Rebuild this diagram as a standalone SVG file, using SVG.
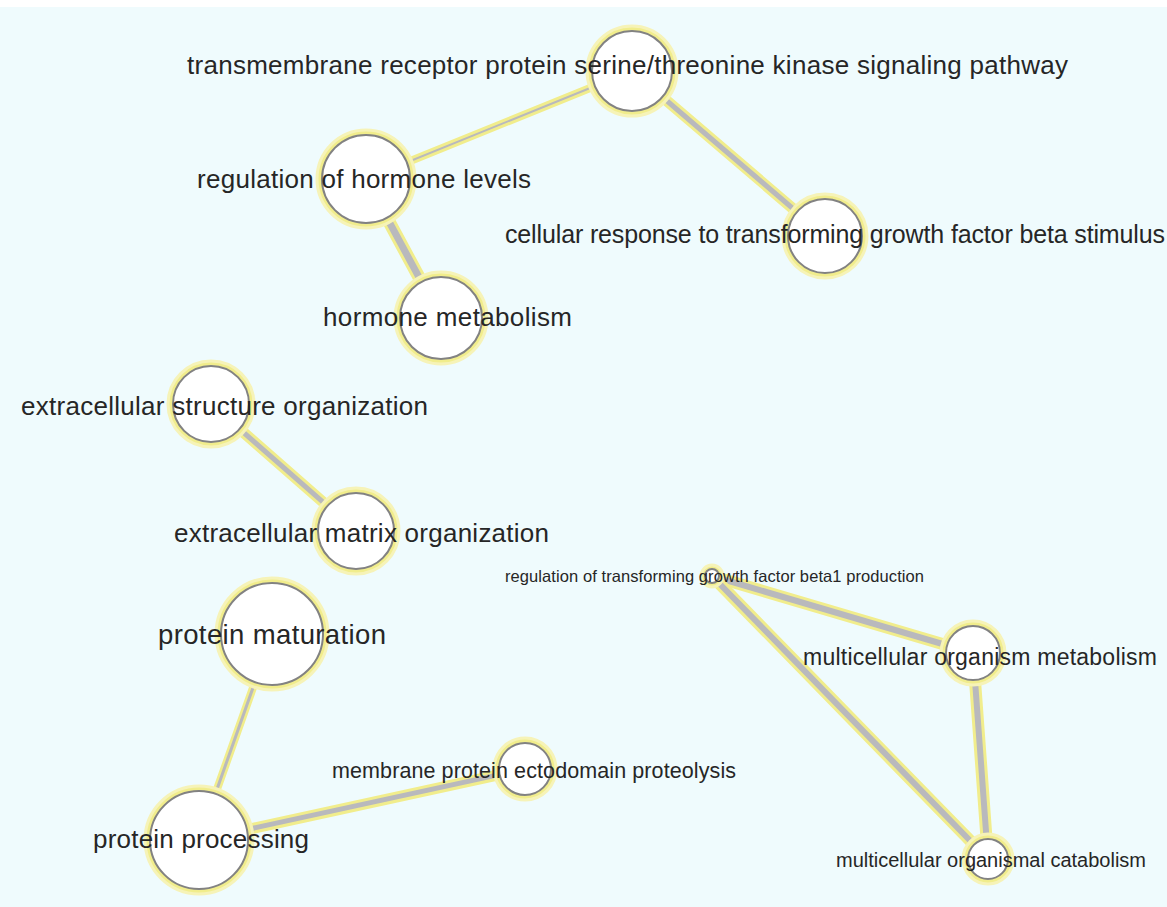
<svg xmlns="http://www.w3.org/2000/svg" width="1167" height="907" viewBox="0 0 1167 907">
<style>
.halo{fill:none;stroke:#f1ed8c;stroke-linecap:round}
.core{fill:none;stroke:#b9b9bd;stroke-linecap:round}
.glow{fill:#f1ed8c;stroke:#f6f3b8;stroke-width:3}
.node{fill:#ffffff;stroke:#828282;stroke-width:2}
.lbl{font-family:"Liberation Sans",Arial,sans-serif;fill:#262626}
</style>
<rect x="0" y="0" width="1167" height="907" fill="#ffffff"/>
<rect x="0" y="7" width="1167" height="900" fill="#effbfd"/>
<g id="edges">
<line class="halo" stroke-width="8" x1="632" y1="71" x2="366" y2="179"/>
<line class="core" stroke-width="2" x1="632" y1="71" x2="366" y2="179"/>
<line class="halo" stroke-width="11" x1="632" y1="71" x2="825" y2="236"/>
<line class="core" stroke-width="5" x1="632" y1="71" x2="825" y2="236"/>
<line class="halo" stroke-width="13" x1="366" y1="179" x2="441" y2="318"/>
<line class="core" stroke-width="7" x1="366" y1="179" x2="441" y2="318"/>
<line class="halo" stroke-width="11" x1="211" y1="404" x2="356" y2="531"/>
<line class="core" stroke-width="5" x1="211" y1="404" x2="356" y2="531"/>
<line class="halo" stroke-width="8" x1="272" y1="634" x2="199" y2="840"/>
<line class="core" stroke-width="3" x1="272" y1="634" x2="199" y2="840"/>
<line class="halo" stroke-width="11" x1="199" y1="840" x2="525" y2="769"/>
<line class="core" stroke-width="5" x1="199" y1="840" x2="525" y2="769"/>
<line class="halo" stroke-width="12" x1="712" y1="576" x2="973" y2="653"/>
<line class="core" stroke-width="6" x1="712" y1="576" x2="973" y2="653"/>
<line class="halo" stroke-width="12" x1="712" y1="576" x2="988" y2="859"/>
<line class="core" stroke-width="6" x1="712" y1="576" x2="988" y2="859"/>
<line class="halo" stroke-width="12" x1="973" y1="653" x2="988" y2="859"/>
<line class="core" stroke-width="6" x1="973" y1="653" x2="988" y2="859"/>
</g>
<g id="n-transmembrane">
<circle class="glow" cx="632" cy="71" r="45"/><circle class="node" cx="632" cy="71" r="40"/>
<text class="lbl" x="187" y="74" font-size="26" textLength="881">transmembrane receptor protein serine/threonine kinase signaling pathway</text>
</g>
<g id="n-hormone-levels">
<circle class="glow" cx="366" cy="179" r="49"/><circle class="node" cx="366" cy="179" r="44"/>
<text class="lbl" x="197" y="188" font-size="26" textLength="334">regulation of hormone levels</text>
</g>
<g id="n-cellular-response">
<circle class="glow" cx="825" cy="236" r="42"/><circle class="node" cx="825" cy="236" r="37"/>
<text class="lbl" x="505" y="243" font-size="25" textLength="660">cellular response to transforming growth factor beta stimulus</text>
</g>
<g id="n-hormone-metabolism">
<circle class="glow" cx="441" cy="318" r="46"/><circle class="node" cx="441" cy="318" r="41"/>
<text class="lbl" x="323" y="326" font-size="26" textLength="249">hormone metabolism</text>
</g>
<g id="n-ext-structure">
<circle class="glow" cx="211" cy="404" r="43"/><circle class="node" cx="211" cy="404" r="38"/>
<text class="lbl" x="21" y="415" font-size="26" textLength="407">extracellular structure organization</text>
</g>
<g id="n-ext-matrix">
<circle class="glow" cx="356" cy="531" r="43"/><circle class="node" cx="356" cy="531" r="38"/>
<text class="lbl" x="174" y="542" font-size="26" textLength="375">extracellular matrix organization</text>
</g>
<g id="n-tgfb1">
<circle class="glow" cx="712" cy="576" r="11"/><circle class="node" cx="712" cy="576" r="7"/>
<text class="lbl" x="505" y="582" font-size="16.5" textLength="419">regulation of transforming growth factor beta1 production</text>
</g>
<g id="n-protein-maturation">
<circle class="glow" cx="272" cy="634" r="56"/><circle class="node" cx="272" cy="634" r="51"/>
<text class="lbl" x="158" y="644" font-size="27.5" textLength="228">protein maturation</text>
</g>
<g id="n-mc-metabolism">
<circle class="glow" cx="973" cy="653" r="32"/><circle class="node" cx="973" cy="653" r="27"/>
<text class="lbl" x="803" y="665" font-size="23" textLength="354">multicellular organism metabolism</text>
</g>
<g id="n-membrane">
<circle class="glow" cx="525" cy="769" r="31"/><circle class="node" cx="525" cy="769" r="26"/>
<text class="lbl" x="332" y="778" font-size="21.5" textLength="404">membrane protein ectodomain proteolysis</text>
</g>
<g id="n-protein-processing">
<circle class="glow" cx="199" cy="840" r="54"/><circle class="node" cx="199" cy="840" r="49"/>
<text class="lbl" x="93" y="848" font-size="26" textLength="216">protein processing</text>
</g>
<g id="n-mc-catabolism">
<circle class="glow" cx="988" cy="859" r="25"/><circle class="node" cx="988" cy="859" r="20"/>
<text class="lbl" x="836" y="867" font-size="20" textLength="310">multicellular organismal catabolism</text>
</g>
</svg>
